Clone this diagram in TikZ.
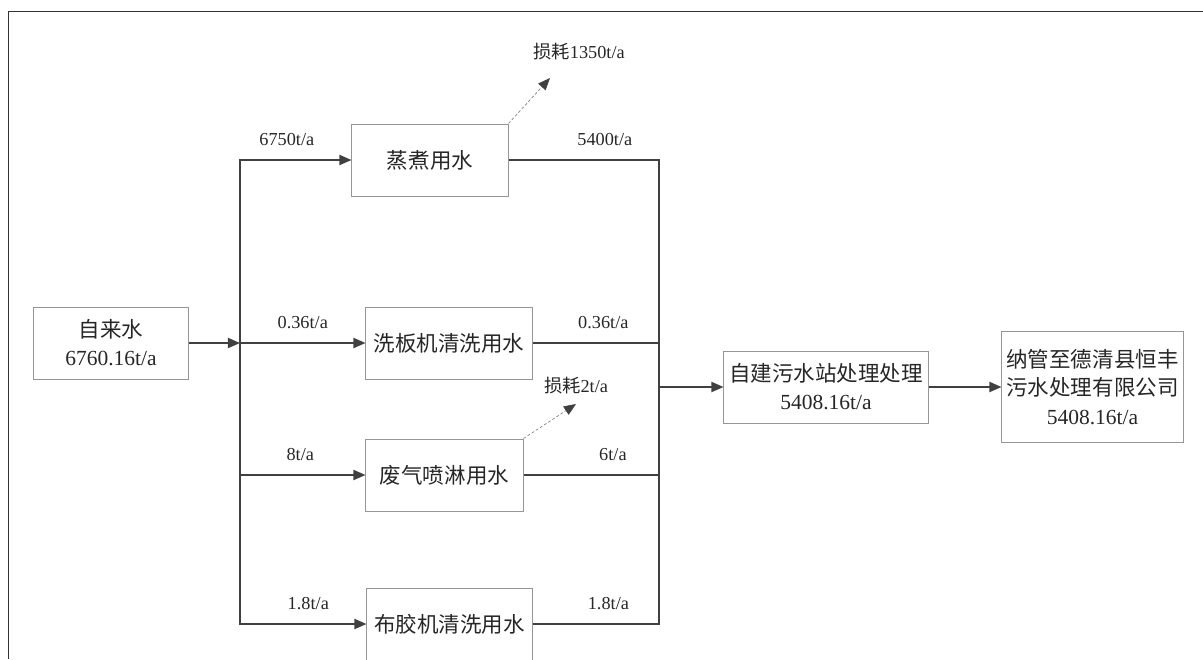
\documentclass[tikz,border=0pt]{standalone}
\usepackage{fontspec}
\setmainfont{Liberation Serif}
\newfontfamily\cjk{Noto Sans CJK SC}
\usetikzlibrary{arrows.meta,positioning,calc}
\definecolor{linegray}{RGB}{64,64,64}
\definecolor{boxgray}{RGB}{150,150,150}
\tikzset{
  unit/.style={draw=boxgray,line width=0.7pt,minimum height=1.8cm,align=center,inner sep=2pt,
    font=\fontsize{15.3}{20}\selectfont,text=black!85},
  flow/.style={draw=linegray,line width=1.2pt,-{Triangle[length=8.6pt,width=7.2pt]}},
  pipe/.style={draw=linegray,line width=1.2pt},
  loss/.style={draw=gray,line width=0.5pt,dash pattern=on 2pt off 1.5pt,
    -{Triangle[length=8.6pt,width=7pt,color=linegray,fill=linegray]}},
  note/.style={font=\fontsize{13}{15}\selectfont,text=black!85},
  rate/.style={note,inner sep=0pt,above=9.8pt},
}

\begin{document}
\begin{tikzpicture}[x=0.025cm,y=-0.025cm]
  \useasboundingbox (0,0) rectangle (1203,659);
  \clip (0,0) rectangle (1203,659);
  \draw[line width=1.4pt,draw=black!80] (1203,11.5) -- (8.5,11.5) -- (8.5,659);
  % sources and users
  \node[unit,minimum width=3.85cm] (tap) at (111,343) {{\cjk 自来水}\\6760.16t/a};
  \node[unit,minimum width=3.9cm] (zhu) at (430,160) {\cjk 蒸煮用水};
  \node[unit,minimum width=4.15cm] (xb) at (449,343) {\cjk 洗板机清洗用水};
  \node[unit,minimum width=3.925cm] (fq) at (444.5,475) {\cjk 废气喷淋用水};
  \node[unit,minimum width=4.125cm] (bj) at (449.5,624) {\cjk 布胶机清洗用水};
  % treatment
  \node[unit,minimum width=5.1cm] (ws) at (826,387) {{\cjk 自建污水站处理处理}\\5408.16t/a};
  \node[unit,minimum width=4.525cm,minimum height=2.775cm] (nag) at (1092.5,387)
    {{\cjk 纳管至德清县恒丰}\\{\cjk 污水处理有限公司}\\5408.16t/a};
  \coordinate (split) at (240,343);
  \coordinate (join) at (659,387);
  % losses
  \node[note] (lossA) at (579,52) {{\cjk 损耗}1350t/a};
  \node[note] (lossB) at (576,386) {{\cjk 损耗}2t/a};
  \coordinate (lossAend) at (550,78);
  \coordinate (lossBend) at (576,404);
  % supply lines
  \draw[flow] (tap) -- (split);
  \draw[flow] (split) |- (zhu) node[rate,pos=0.71] {6750t/a};
  \draw[flow] (split) -- (xb) node[rate,midway] {0.36t/a};
  \draw[flow] (split) |- (fq) node[rate,pos=0.74] {8t/a};
  \draw[flow] (split) |- (bj) node[rate,pos=0.77] {1.8t/a};
  % drain lines
  \draw[pipe] (zhu) -| (join) node[rate,pos=0.32] {5400t/a};
  \draw[pipe] (xb) -| (join) node[rate,pos=0.28] {0.36t/a};
  \draw[pipe] (fq) -| (join) node[rate,pos=0.33] {6t/a};
  \draw[pipe] (bj) -| (join) node[rate,pos=0.3] {1.8t/a};
  \draw[flow] (join) -- (ws);
  \draw[flow] (ws) -- (nag);
  \draw[loss] (zhu.north east) -- (lossAend);
  \draw[loss] (fq.north east) -- (lossBend);
\end{tikzpicture}
\end{document}
